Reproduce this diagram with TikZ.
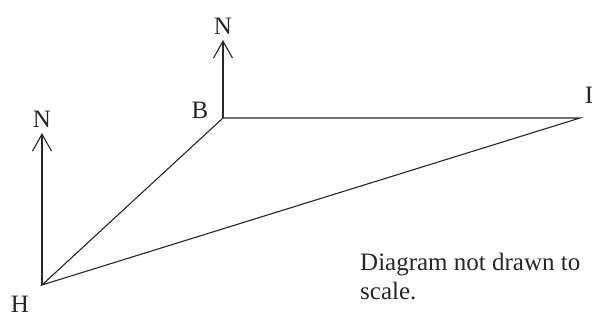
\documentclass[tikz,border=0pt]{standalone}
\usepackage{fontspec}
\setmainfont{Liberation Serif}
\usetikzlibrary{arrows.meta,positioning}
\tikzset{
  font=\fontsize{25}{29}\selectfont,
  leg/.style  ={line width=1.1pt, black!85},
  north/.style={line width=1.1pt, black!85, -{Straight Barb[length=17pt, width=19pt, line width=1.1pt]}},
  lab/.style  ={inner sep=0pt, text=black!85},
  note/.style ={inner sep=0pt, align=left, anchor=north west, text=black!85},
}
\begin{document}
\begin{tikzpicture}[x=1pt, y=1pt]
  \useasboundingbox (0,0) rectangle (592,320);
  % the three points of the triangle
  \coordinate (H) at (42,35);
  \coordinate (B) at (223,202);
  \coordinate (I) at (580,202);
  % tips of the two north arrows
  \coordinate (Hn) at (42,187);
  \coordinate (Bn) at (223,280);

  \draw[leg] (H) -- (B) -- (I) -- cycle;
  \draw[north] (H) -- (Hn);
  \draw[north] (B) -- (Bn);

  % labels
  \node[lab] (labH)  at (20,16)   {H};
  \node[lab] (labB)  at (200,210) {B};
  \node[lab] (labI)  at (589,225) {I};
  \node[lab, above=5pt of Hn] (labHn) {N};
  \node[lab, above=5pt of Bn] (labBn) {N};
  \node[note] (remark) at (360,67) {Diagram not drawn to\\scale.};
\end{tikzpicture}
\end{document}
